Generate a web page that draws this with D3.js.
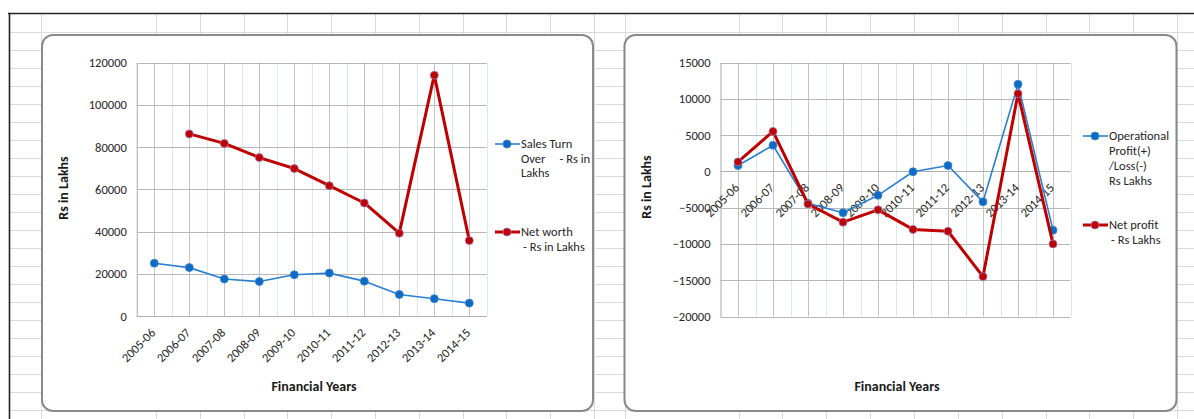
<!DOCTYPE html>
<html>
<head>
<meta charset="utf-8">
<script src="https://cdn.jsdelivr.net/npm/d3@7"></script>
<style>
  html, body { margin: 0; padding: 0; background: #fff; }
  svg { display: block; font-family: Carlito, Calibri, Lato, sans-serif; }
  text { white-space: pre; }
</style>
</head>
<body>
<svg id="sheet" width="1194" height="419"></svg>
<script>
// Financial years shared by both charts
const years = ["2005-06","2006-07","2007-08","2008-09","2009-10","2010-11","2011-12","2012-13","2013-14","2014-15"];

// Left chart series (Rs in Lakhs)
const salesTurnover = [25000, 22900, 17500, 16300, 19500, 20300, 16500, 10200, 8200, 6100];
const netWorth = [null, 86200, 81700, 75000, 69800, 61700, 53500, 39200, 114000, 35700];
const leftTicks = [0, 20000, 40000, 60000, 80000, 100000, 120000];

// Right chart series (Rs in Lakhs)
const operationalProfit = [800, 3600, -4400, -5700, -3300, -50, 800, -4200, 12000, -8100];
const netProfit = [1300, 5500, -4500, -7000, -5300, -8000, -8250, -14500, 10700, -10000];
const rightTicks = [-20000, -15000, -10000, -5000, 0, 5000, 10000, 15000];

// Spreadsheet cell borders behind the charts
const sheetCols = [41, 156, 200, 244, 287, 331, 375, 419, 463, 506, 550, 594, 625, 739, 782, 826, 870, 914, 958, 1002, 1046, 1089, 1133, 1177];

const BLUE = "#2b7fd3", BLUE_DOT = "#0d6bc4", RED = "#c00000";
const TEXT = "#262626", FS = 12.5, TITLE_FS = 14;

const svg = d3.select("#sheet");

// ---- worksheet background ----
const grid = svg.append("g");
for (let y = 32; y <= 419; y += 18) {
  grid.append("line").attr("x1", 9).attr("x2", 1194).attr("y1", y + 0.5).attr("y2", y + 0.5)
    .attr("stroke", "#dadada").attr("stroke-width", 1);
}
sheetCols.forEach(x => {
  grid.append("line").attr("x1", x + 0.5).attr("x2", x + 0.5).attr("y1", 13).attr("y2", 419)
    .attr("stroke", "#dadada").attr("stroke-width", 1);
});
grid.append("line").attr("x1", 8).attr("x2", 1194).attr("y1", 13.5).attr("y2", 13.5)
  .attr("stroke", "#222").attr("stroke-width", 1.6);
grid.append("line").attr("x1", 9.5).attr("x2", 9.5).attr("y1", 13).attr("y2", 419)
  .attr("stroke", "#222").attr("stroke-width", 1.6);

// ---- one line chart ----
function drawChart(cfg) {
  const g = svg.append("g");
  g.append("rect").attr("x", cfg.box[0]).attr("y", cfg.box[1])
    .attr("width", cfg.box[2]).attr("height", cfg.box[3])
    .attr("rx", 11).attr("ry", 11)
    .attr("fill", "#fff").attr("stroke", "#8a8a8a").attr("stroke-width", 2);

  const x = d3.scaleBand().domain(years).range(cfg.xRange);
  const cx = d => x(d) + x.bandwidth() / 2;
  const y = d3.scaleLinear().domain(cfg.yDomain).range(cfg.yRange);

  // light gridlines at category boundaries
  const bounds = years.map(d => x(d)).slice(1).concat([cfg.xRange[1]]);
  bounds.forEach(b => {
    g.append("line").attr("x1", Math.round(b) + 0.5).attr("x2", Math.round(b) + 0.5)
      .attr("y1", cfg.yRange[1]).attr("y2", cfg.yRange[0])
      .attr("stroke", "#dde7f3").attr("stroke-width", 1);
  });
  // gridlines through each category
  years.forEach(d => {
    g.append("line").attr("x1", Math.round(cx(d)) + 0.5).attr("x2", Math.round(cx(d)) + 0.5)
      .attr("y1", cfg.yRange[1]).attr("y2", cfg.yRange[0])
      .attr("stroke", "#c4c4c4").attr("stroke-width", 1);
  });
  // horizontal value gridlines
  cfg.ticks.forEach(t => {
    g.append("line").attr("x1", cfg.xRange[0]).attr("x2", cfg.xRange[1])
      .attr("y1", Math.round(y(t)) + 0.5).attr("y2", Math.round(y(t)) + 0.5)
      .attr("stroke", "#b8b8b8").attr("stroke-width", 1.2);
  });

  // value axis
  const yAxis = g.append("g").attr("transform", `translate(${cfg.xRange[0]},0)`)
    .call(d3.axisLeft(y).tickValues(cfg.ticks).tickSize(0).tickPadding(10).tickFormat(d3.format("d")));
  yAxis.select(".domain").attr("stroke", "#b8b8b8").attr("stroke-width", 1.2);
  yAxis.selectAll("text").attr("font-size", FS).attr("fill", TEXT)
    .attr("font-family", "Carlito, Calibri, Lato, sans-serif");

  // category axis line at the baseline
  const baseY = Math.round(y(cfg.base)) + 0.5;
  g.append("line").attr("x1", cfg.xRange[0]).attr("x2", cfg.xRange[1])
    .attr("y1", baseY).attr("y2", baseY).attr("stroke", "#b0b0b0").attr("stroke-width", 1.2);
  years.forEach(d => {
    g.append("text")
      .attr("transform", `translate(${cx(d) + 2},${baseY + 17}) rotate(-45)`)
      .attr("text-anchor", "end").attr("font-size", FS).attr("fill", TEXT)
      .text(d);
  });

  // axis titles
  g.append("text")
    .attr("transform", `translate(${cfg.yTitle[0]},${cfg.yTitle[1]}) rotate(-90)`)
    .attr("text-anchor", "middle").attr("dy", "0.35em")
    .attr("font-size", TITLE_FS).attr("font-weight", "bold").attr("fill", "#1a1a1a")
    .text("Rs in Lakhs");
  g.append("text").attr("x", cfg.xTitle[0]).attr("y", cfg.xTitle[1])
    .attr("text-anchor", "middle").attr("dy", "0.35em")
    .attr("font-size", TITLE_FS).attr("font-weight", "bold").attr("fill", "#1a1a1a")
    .text("Financial Years");

  // series
  cfg.series.forEach(s => {
    const line = d3.line().defined(v => v != null)
      .x((v, i) => cx(years[i])).y(v => y(v));
    g.append("path").datum(s.values).attr("d", line)
      .attr("fill", "none").attr("stroke", s.color).attr("stroke-width", s.width)
      .attr("stroke-linejoin", "round");
    g.selectAll(null).data(s.values.map((v, i) => [years[i], v]).filter(p => p[1] != null))
      .join("circle")
      .attr("cx", p => cx(p[0])).attr("cy", p => y(p[1])).attr("r", s.r)
      .attr("fill", s.dot).attr("stroke", s.edge).attr("stroke-width", 0.8);
  });

  // legend
  cfg.series.forEach(s => {
    const lx = cfg.legendX, ly = s.legendY;
    g.append("line").attr("x1", lx - 26).attr("x2", lx - 1).attr("y1", ly).attr("y2", ly)
      .attr("stroke", s.color).attr("stroke-width", s.width);
    g.append("circle").attr("cx", lx - 14).attr("cy", ly).attr("r", s.r)
      .attr("fill", s.dot).attr("stroke", s.edge).attr("stroke-width", 0.8);
    s.label.forEach((t, i) => {
      g.append("text").attr("x", lx + (t.startsWith("-") ? 2 : 0)).attr("y", ly + i * s.lineGap)
        .attr("dy", "0.35em").attr("font-size", FS).attr("fill", TEXT).text(t);
    });
  });
}

drawChart({
  box: [42, 35, 551, 376],
  xRange: [136.8, 486.8],
  yDomain: [0, 120000],
  yRange: [316, 62.5],
  ticks: leftTicks,
  base: 0,
  yTitle: [63, 188],
  xTitle: [314, 386],
  legendX: 521,
  series: [
    { values: salesTurnover, color: BLUE, dot: BLUE_DOT, edge: "#3d86d0", width: 1.6, r: 4,
      legendY: 144, lineGap: 14.3, label: ["Sales Turn", "Over     - Rs in", "Lakhs"] },
    { values: netWorth, color: RED, dot: RED, edge: "#9a7ab8", width: 3, r: 4,
      legendY: 232, lineGap: 14.3, label: ["Net worth", "- Rs in Lakhs"] }
  ]
});

drawChart({
  box: [624.5, 35, 552, 376],
  xRange: [720.5, 1070.5],
  yDomain: [-20000, 15000],
  yRange: [316.5, 62.5],
  ticks: rightTicks,
  base: 0,
  yTitle: [646, 187],
  xTitle: [897, 386],
  legendX: 1109,
  series: [
    { values: operationalProfit, color: BLUE, dot: BLUE_DOT, edge: "#3d86d0", width: 1.6, r: 4,
      legendY: 136, lineGap: 14.8, label: ["Operational", "Profit(+)", "/Loss(-)", "Rs Lakhs"] },
    { values: netProfit, color: RED, dot: RED, edge: "#9a7ab8", width: 3, r: 4,
      legendY: 225, lineGap: 14.8, label: ["Net profit", "- Rs Lakhs"] }
  ]
});
</script>
</body>
</html>
